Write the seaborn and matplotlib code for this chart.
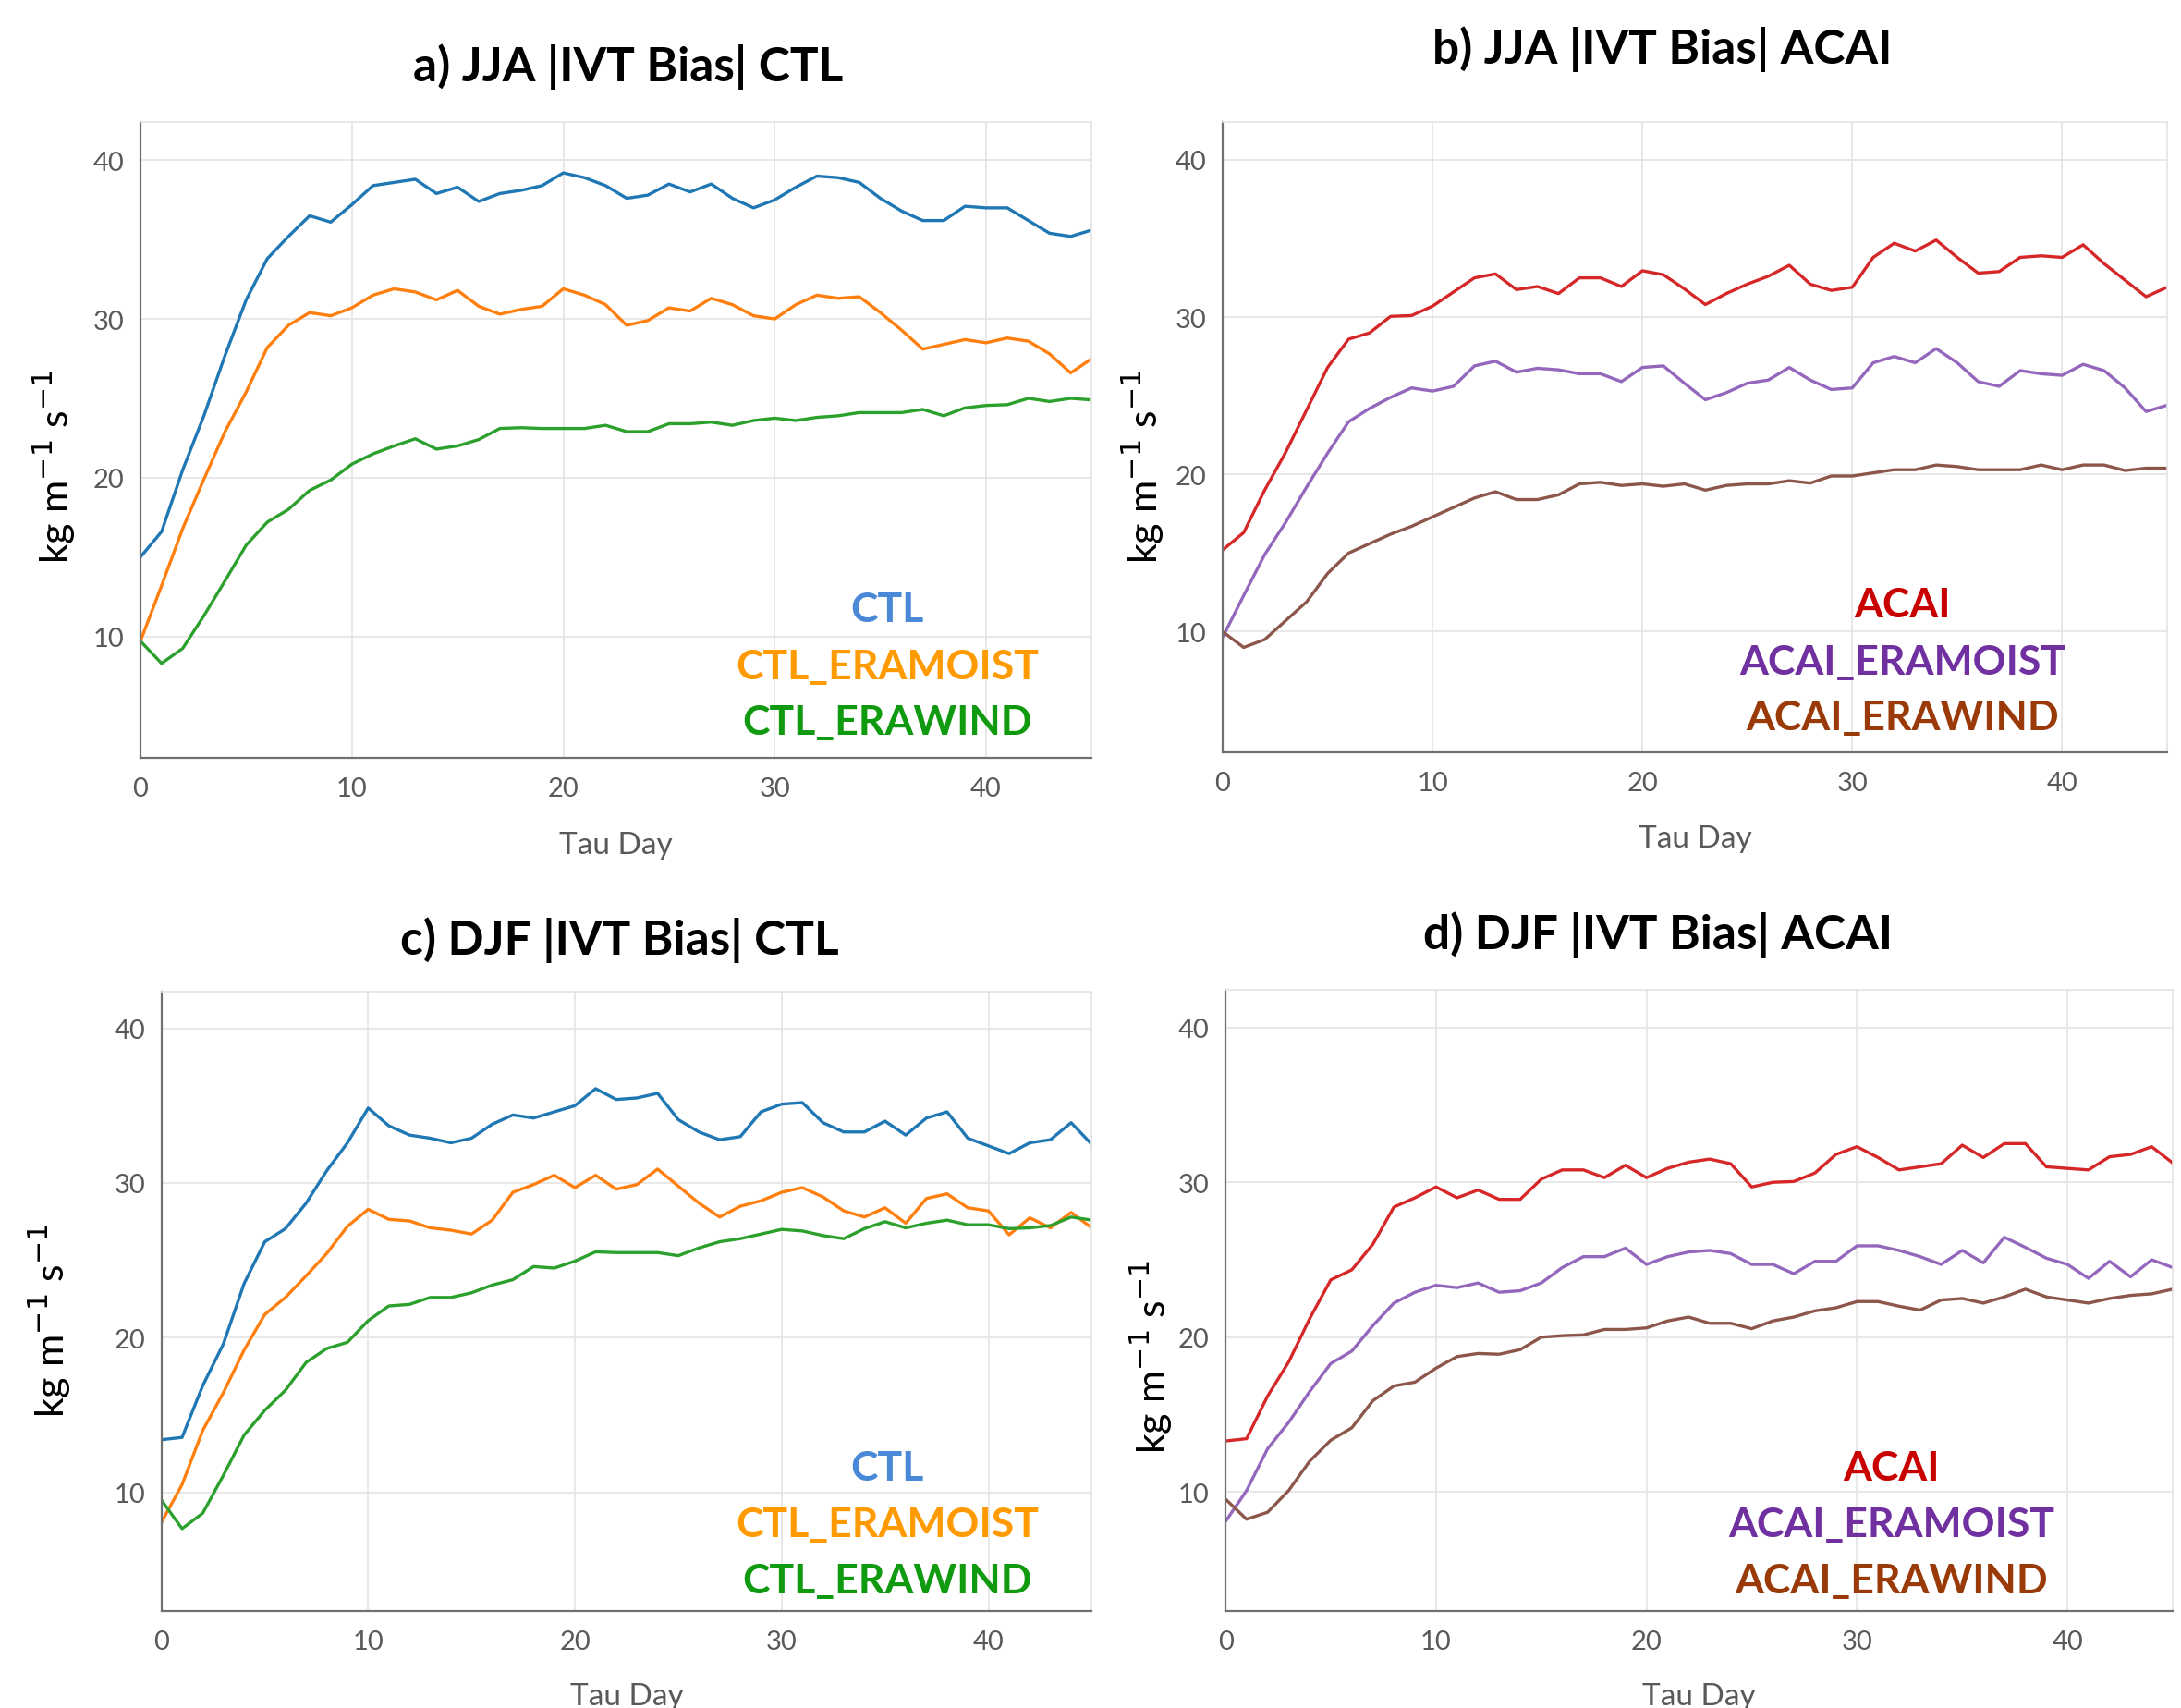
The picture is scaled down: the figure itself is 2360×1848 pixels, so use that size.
import numpy as np
import pandas as pd
import matplotlib
matplotlib.use("Agg")
import matplotlib.pyplot as plt
from matplotlib.ticker import MultipleLocator
import seaborn as sns

days = list(range(46))

# a) JJA CTL
jja_ctl = [15.0, 16.6, 20.5, 23.9, 27.7, 31.2, 33.8, 35.2, 36.5, 36.1,
           37.2, 38.4, 38.6, 38.8, 37.9, 38.3, 37.4, 37.9, 38.1, 38.4,
           39.2, 38.9, 38.4, 37.6, 37.8, 38.5, 38.0, 38.5, 37.6, 37.0,
           37.5, 38.3, 39.0, 38.9, 38.6, 37.6, 36.8, 36.2, 36.2, 37.1,
           37.0, 37.0, 36.2, 35.4, 35.2, 35.6]
jja_ctl_eramoist = [9.7, 13.2, 16.8, 19.9, 22.9, 25.4, 28.2, 29.6, 30.4, 30.2,
                    30.7, 31.5, 31.9, 31.7, 31.2, 31.8, 30.8, 30.3, 30.6, 30.8,
                    31.9, 31.5, 30.9, 29.6, 29.9, 30.7, 30.5, 31.3, 30.9, 30.2,
                    30.0, 30.9, 31.5, 31.3, 31.4, 30.4, 29.3, 28.1, 28.4, 28.7,
                    28.5, 28.8, 28.6, 27.8, 26.6, 27.5]
jja_ctl_erawind = [9.7, 8.3, 9.25, 11.3, 13.5, 15.75, 17.2, 18.0, 19.2, 19.85,
                   20.85, 21.5, 22.0, 22.45, 21.8, 22.0, 22.4, 23.1, 23.15, 23.1,
                   23.1, 23.1, 23.3, 22.9, 22.9, 23.4, 23.4, 23.5, 23.3, 23.6,
                   23.75, 23.6, 23.8, 23.9, 24.1, 24.1, 24.1, 24.3, 23.9, 24.4,
                   24.55, 24.6, 25.0, 24.8, 25.0, 24.9]

# b) JJA ACAI
jja_acai = [15.2, 16.3, 19.0, 21.4, 24.1, 26.8, 28.6, 29.0, 30.05, 30.1,
            30.7, 31.6, 32.5, 32.75, 31.75, 31.95, 31.5, 32.5, 32.5, 31.95,
            32.95, 32.7, 31.8, 30.8, 31.5, 32.1, 32.6, 33.3, 32.1, 31.7,
            31.9, 33.8, 34.7, 34.2, 34.9, 33.8, 32.8, 32.9, 33.8, 33.9,
            33.8, 34.6, 33.4, 32.35, 31.3, 31.9]
jja_acai_eramoist = [9.65, 12.3, 14.9, 16.95, 19.2, 21.35, 23.35, 24.2, 24.9, 25.5,
                     25.3, 25.6, 26.9, 27.2, 26.5, 26.75, 26.65, 26.4, 26.4, 25.9,
                     26.8, 26.9, 25.8, 24.75, 25.2, 25.8, 26.0, 26.8, 26.0, 25.4,
                     25.5, 27.1, 27.5, 27.1, 28.0, 27.1, 25.9, 25.6, 26.6, 26.4,
                     26.3, 27.0, 26.6, 25.5, 24.0, 24.4]
jja_acai_erawind = [10.0, 9.0, 9.5, 10.7, 11.9, 13.7, 15.0, 15.6, 16.2, 16.7,
                    17.3, 17.9, 18.5, 18.9, 18.4, 18.4, 18.7, 19.4, 19.5, 19.3,
                    19.4, 19.25, 19.4, 19.0, 19.3, 19.4, 19.4, 19.6, 19.45, 19.9,
                    19.9, 20.1, 20.3, 20.3, 20.6, 20.5, 20.3, 20.3, 20.3, 20.6,
                    20.3, 20.6, 20.6, 20.25, 20.4, 20.4]

# c) DJF CTL
djf_ctl = [13.4, 13.55, 16.9, 19.6, 23.5, 26.2, 27.05, 28.7, 30.8, 32.6,
           34.85, 33.7, 33.1, 32.9, 32.6, 32.9, 33.8, 34.4, 34.2, 34.6,
           35.0, 36.1, 35.4, 35.5, 35.8, 34.1, 33.3, 32.8, 33.0, 34.6,
           35.1, 35.2, 33.9, 33.3, 33.3, 34.0, 33.1, 34.2, 34.6, 32.9,
           32.4, 31.9, 32.6, 32.8, 33.9, 32.5]
djf_ctl_eramoist = [8.05, 10.5, 14.0, 16.45, 19.2, 21.5, 22.6, 24.0, 25.45, 27.2,
                    28.3, 27.65, 27.55, 27.1, 26.95, 26.7, 27.6, 29.4, 29.9, 30.5,
                    29.7, 30.5, 29.6, 29.9, 30.9, 29.8, 28.7, 27.8, 28.5, 28.85,
                    29.4, 29.7, 29.1, 28.2, 27.8, 28.4, 27.4, 29.0, 29.3, 28.4,
                    28.2, 26.65, 27.75, 27.1, 28.1, 27.1]
djf_ctl_erawind = [9.5, 7.65, 8.65, 11.1, 13.7, 15.3, 16.6, 18.4, 19.3, 19.7,
                   21.1, 22.05, 22.15, 22.6, 22.6, 22.9, 23.4, 23.75, 24.6, 24.5,
                   24.95, 25.55, 25.5, 25.5, 25.5, 25.3, 25.8, 26.2, 26.4, 26.7,
                   27.0, 26.9, 26.6, 26.4, 27.05, 27.5, 27.1, 27.4, 27.6, 27.3,
                   27.3, 27.05, 27.1, 27.25, 27.8, 27.6]

# d) DJF ACAI
djf_acai = [13.3, 13.45, 16.2, 18.4, 21.2, 23.7, 24.35, 26.0, 28.4, 29.0,
            29.7, 29.0, 29.5, 28.9, 28.9, 30.2, 30.8, 30.8, 30.3, 31.1,
            30.3, 30.9, 31.3, 31.5, 31.2, 29.7, 30.0, 30.05, 30.6, 31.8,
            32.3, 31.6, 30.8, 31.0, 31.2, 32.4, 31.6, 32.5, 32.5, 31.0,
            30.9, 30.8, 31.65, 31.8, 32.3, 31.25]
djf_acai_eramoist = [8.1, 10.1, 12.8, 14.5, 16.5, 18.3, 19.1, 20.75, 22.2, 22.9,
                     23.35, 23.2, 23.5, 22.9, 23.0, 23.5, 24.5, 25.2, 25.2, 25.75,
                     24.7, 25.2, 25.5, 25.6, 25.4, 24.7, 24.7, 24.1, 24.9, 24.9,
                     25.9, 25.9, 25.6, 25.2, 24.7, 25.6, 24.8, 26.45, 25.8, 25.1,
                     24.7, 23.8, 24.9, 23.9, 25.0, 24.5]
djf_acai_erawind = [9.55, 8.25, 8.7, 10.1, 12.0, 13.35, 14.15, 15.9, 16.85, 17.1,
                    18.0, 18.75, 18.95, 18.9, 19.2, 20.0, 20.1, 20.15, 20.5, 20.5,
                    20.6, 21.05, 21.3, 20.9, 20.9, 20.55, 21.05, 21.3, 21.7, 21.9,
                    22.3, 22.3, 22.0, 21.75, 22.4, 22.5, 22.2, 22.6, 23.1, 22.6,
                    22.4, 22.2, 22.5, 22.7, 22.8, 23.1]

ctl_names = ["CTL", "CTL_ERAMOIST", "CTL_ERAWIND"]
acai_names = ["ACAI", "ACAI_ERAMOIST", "ACAI_ERAWIND"]
ctl_line_colors = ["#1f77b4", "#ff7f0e", "#2ca02c"]
acai_line_colors = ["#d62728", "#9467bd", "#8c564b"]
ctl_text_colors = ["#4a88d8", "#ff9a00", "#109a10"]
acai_text_colors = ["#c80000", "#7030a0", "#9a3a08"]

sns.set_style("white")
plt.rcParams["font.family"] = ["Lato", "DejaVu Sans"]

fig = plt.figure(figsize=(23.6, 18.49), dpi=100)

panels = [
    dict(title="a) JJA |IVT Bias| CTL", series=[jja_ctl, jja_ctl_eramoist, jja_ctl_erawind],
         names=ctl_names, lc=ctl_line_colors, tc=ctl_text_colors,
         rect=[0.0644, 0.556, 0.4362, 0.372], title_xy=(0.288, 0.961),
         ylab_x=-0.066, ylab_y=0.46, leg_x=0.785, leg_y=[0.234, 0.144, 0.057]),
    dict(title="b) JJA |IVT Bias| ACAI", series=[jja_acai, jja_acai_eramoist, jja_acai_erawind],
         names=acai_names, lc=acai_line_colors, tc=acai_text_colors,
         rect=[0.5606, 0.5594, 0.433, 0.3686], title_xy=(0.762, 0.971),
         ylab_x=-0.060, ylab_y=0.455, leg_x=0.72, leg_y=[0.234, 0.143, 0.055]),
    dict(title="c) DJF |IVT Bias| CTL", series=[djf_ctl, djf_ctl_eramoist, djf_ctl_erawind],
         names=ctl_names, lc=ctl_line_colors, tc=ctl_text_colors,
         rect=[0.074, 0.057, 0.4266, 0.3624], title_xy=(0.284, 0.450),
         ylab_x=-0.095, ylab_y=0.47, leg_x=0.78, leg_y=[0.231, 0.139, 0.049]),
    dict(title="d) DJF |IVT Bias| ACAI", series=[djf_acai, djf_acai_eramoist, djf_acai_erawind],
         names=acai_names, lc=acai_line_colors, tc=acai_text_colors,
         rect=[0.5619, 0.057, 0.4343, 0.363], title_xy=(0.760, 0.453),
         ylab_x=-0.054, ylab_y=0.41, leg_x=0.703, leg_y=[0.231, 0.139, 0.049]),
]

for p in panels:
    ax = fig.add_axes(p["rect"])
    df = pd.DataFrame({
        "Tau Day": days * 3,
        "value": np.concatenate(p["series"]),
        "run": np.repeat(p["names"], len(days)),
    })
    sns.lineplot(data=df, x="Tau Day", y="value", hue="run", hue_order=p["names"],
                 palette=p["lc"], linewidth=2.4, legend=False, ax=ax)

    ax.set_xlim(0, 45)
    ax.set_ylim(2.35, 42.4)
    ax.xaxis.set_major_locator(MultipleLocator(10))
    ax.xaxis.set_minor_locator(MultipleLocator(2))
    ax.set_yticks([10, 20, 30, 40])
    ax.yaxis.set_minor_locator(MultipleLocator(2))
    ax.grid(True, which="major", color="#e4e4e4", linewidth=1.2)
    ax.set_axisbelow(True)
    ax.tick_params(which="both", direction="out", length=6.5, width=1.0,
                   color="#8a8a8a", labelsize=21, labelcolor="#595959")
    ax.tick_params(axis="x", which="major", pad=8)
    ax.tick_params(axis="y", which="major", pad=6)
    for s in ["left", "bottom"]:
        ax.spines[s].set_color("#707070")
        ax.spines[s].set_linewidth(1.6)
    for s in ["top", "right"]:
        ax.spines[s].set_color("#e4e4e4")
        ax.spines[s].set_linewidth(1.2)

    ax.set_xlabel("Tau Day", fontsize=24, color="#595959")
    ax.xaxis.set_label_coords(0.5, -0.115)
    ax.set_ylabel("kg m$^{-1}$ s$^{-1}$", fontsize=31, color="black")
    ax.yaxis.set_label_coords(p["ylab_x"], p["ylab_y"])

    for name, col, yy in zip(p["names"], p["tc"], p["leg_y"]):
        ax.text(p["leg_x"], yy, name, transform=ax.transAxes, ha="center", va="center",
                fontsize=32, fontweight="bold", color=col)

    fig.text(p["title_xy"][0], p["title_xy"][1], p["title"], ha="center", va="center",
             fontsize=37, fontweight="bold", color="black")

fig.savefig("out.png", dpi=100)
